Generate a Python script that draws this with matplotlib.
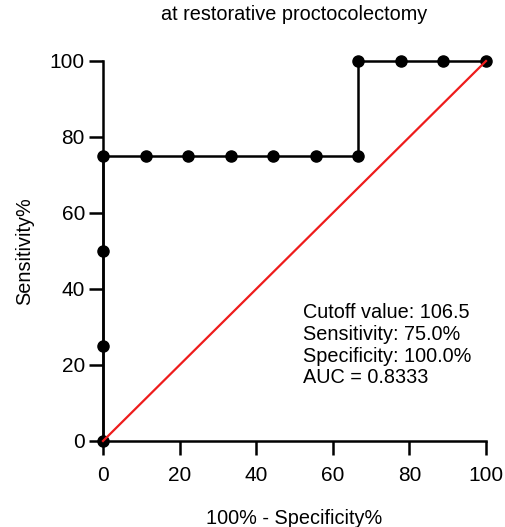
import matplotlib.pyplot as plt

plt.rcParams['font.family'] = ['Liberation Sans', 'DejaVu Sans']

# ROC curve points (100% - Specificity%, Sensitivity%)
fpr = [0, 0, 0, 0, 11.11, 22.22, 33.33, 44.44, 55.56, 66.67, 66.67, 77.78, 88.89, 100]
tpr = [0, 25, 50, 75, 75, 75, 75, 75, 75, 75, 100, 100, 100, 100]
ref_line = [0, 100]
ticks = [0, 20, 40, 60, 80, 100]
stats = ["Cutoff value: 106.5", "Sensitivity: 75.0%", "Specificity: 100.0%", "AUC = 0.8333"]

W, H = 506, 527
fig = plt.figure(figsize=(W / 100, H / 100), dpi=100)
ax = fig.add_axes([103 / W, 1 - 441 / H, 383 / W, 380 / H])

ax.plot(fpr, tpr, color='black', lw=1.8, marker='o', ms=8, clip_on=False, zorder=3)
ax.plot(ref_line, ref_line, color='#ee1c1c', lw=1.6, clip_on=False, zorder=4)

ax.set_xlim(0, 100)
ax.set_ylim(0, 100)
ax.set_xticks(ticks)
ax.set_yticks(ticks)
for s in ['top', 'right']:
    ax.spines[s].set_visible(False)
for s in ['left', 'bottom']:
    ax.spines[s].set_linewidth(1.8)
ax.tick_params(width=1.8, length=10, labelsize=15)
ax.tick_params(axis='x', pad=8)
ax.tick_params(axis='y', pad=3)

ax.set_xlabel('100% - Specificity%', fontsize=14.3, labelpad=17)
ax.set_ylabel('Sensitivity%', fontsize=14.3, labelpad=11)
fig.text((103 + 486) / 2 / W, 1 - 15 / H, 'at restorative proctocolectomy',
         fontsize=14.3, ha='center', va='center')

ax.text(0.522, 0.362, "\n".join(stats), transform=ax.transAxes, fontsize=14.3,
        va='top', ha='left', linespacing=1.17)

fig.savefig('out.png', dpi=100)
